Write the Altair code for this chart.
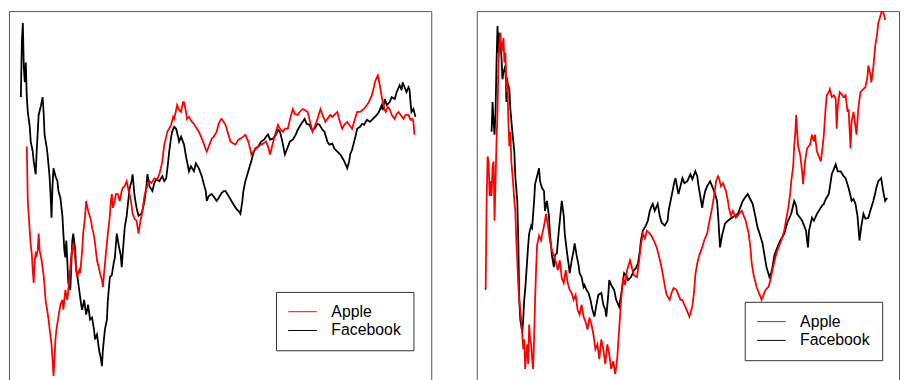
import altair as alt
import pandas as pd

# ---- Left panel (trading day index, price level) ----
left_fb_day = [12,13,14,15,16,17,18,19,21,22,24,25,27,28,30,32,34,35,36,38,39,41,42,43,44,45,47,49,50,52,54,55,56,57,58,60,62,63,64,65,67,68,69,71,73,74,76,78,80,82,84,86,87,89,91,93,94,95,97,99,100,102,104,106,107,109,111,113,114,116,117,119,122,124,125,127,129,131,134,136,137,139,140,142,145,147,149,152,155,157,159,161,162,164,165,167,169,171,172,174,177,179,182,184,187,189,192,195,197,199,200,202,205,208,210,212,215,217,219,222,225,228,230,232,234,236,237,239,242,244,245,247,249,252,255,258,260,262,264,267,270,272,274,276,279,281,284,287,290,292,295,297,299,301,304,306,309,312,314,317,319,322,324,327,329,332,335,338,340,342,344,345,347,349,351,352,355,357,359,362,365,368,372,374,377,378,380,382,385,387,390,392,395,397,398,400,402,404,405,406,407,409,411]
left_fb_val = [285,340,360,315,300,320,285,270,255,240,230,220,207,230,267,275,285,270,247,235,227,205,187,163,195,213,205,200,190,183,165,147,130,123,140,97,90,115,140,147,130,110,105,90,75,70,80,65,75,60,62,50,40,45,30,20,13,30,50,60,80,103,105,118,122,147,135,125,113,140,153,165,193,200,207,185,173,165,167,175,180,195,207,195,190,198,202,200,205,200,203,220,230,245,250,255,253,245,240,245,237,225,210,215,210,218,213,205,197,190,180,185,187,183,180,183,188,190,190,185,180,175,172,170,167,180,190,200,210,217,220,228,233,235,240,242,245,247,242,243,247,252,250,242,227,232,240,242,247,252,257,260,263,258,257,252,253,258,257,252,250,240,237,238,233,230,227,222,218,213,220,227,232,240,248,253,255,258,257,262,260,263,267,270,277,272,283,277,280,285,283,290,297,292,300,295,290,295,293,280,270,273,265]

left_ap_day = [18,19,20,21,22,23,24,25,26,27,28,29,30,31,32,33,35,36,37,39,40,42,43,44,45,46,47,48,50,52,54,55,57,59,60,62,63,65,67,69,71,72,74,75,77,78,80,81,83,84,86,87,89,91,92,94,95,96,98,100,102,103,104,105,107,108,110,112,114,115,117,119,121,122,124,125,127,129,131,133,135,137,139,142,144,147,150,152,154,155,157,159,160,162,164,166,167,169,170,172,174,176,177,179,180,182,185,187,190,192,195,197,199,200,202,205,207,210,212,214,215,217,219,221,224,227,229,232,234,237,239,242,244,245,247,250,252,255,257,260,262,264,266,269,272,274,277,279,282,284,287,289,292,294,297,299,302,304,307,309,312,314,315,317,320,322,325,327,329,332,334,337,339,342,344,347,349,352,355,359,362,364,367,369,370,372,373,375,377,378,380,381,383,385,387,390,392,394,396,399,401,404,406,408,409,410]
left_ap_val = [235,180,165,150,135,127,110,97,120,127,125,130,147,130,125,120,105,93,80,67,60,43,35,20,3,20,40,50,63,75,80,70,90,80,90,113,125,137,120,103,110,107,130,147,165,180,170,167,160,153,145,137,120,112,107,100,93,105,127,147,165,180,187,173,180,187,187,180,190,193,195,200,190,187,175,167,162,160,147,160,170,185,193,200,198,203,202,207,215,220,237,245,250,253,257,265,263,272,277,272,270,280,280,270,263,265,260,258,253,250,243,238,232,230,235,243,245,250,258,262,263,260,257,250,240,238,237,242,243,245,247,240,232,227,230,233,235,237,238,240,235,227,235,247,257,253,250,253,253,262,273,268,267,270,273,272,270,262,250,255,263,270,273,267,260,263,267,265,267,270,262,253,257,260,257,253,260,270,270,273,277,280,287,295,300,305,307,297,285,280,272,270,275,273,267,263,268,270,267,263,267,267,262,263,260,247]

# ---- Right panel ----
right_fb_day = [15,16,17,18,19,20,21,22,23,24,25,26,27,29,30,31,33,34,36,38,39,41,42,43,44,46,47,48,49,51,52,53,55,56,58,59,61,63,64,66,68,69,71,73,74,76,78,79,81,83,85,86,88,89,91,93,94,96,98,99,101,103,104,106,108,109,111,113,115,117,119,121,123,126,128,130,131,133,134,136,139,141,144,146,149,151,153,156,159,161,163,165,166,168,171,173,175,177,178,180,183,185,187,188,190,193,194,196,198,200,201,203,204,206,208,210,213,216,218,221,223,224,226,228,229,231,233,236,238,241,243,244,245,246,248,251,254,258,261,264,266,269,271,274,276,279,281,284,286,289,291,293,296,298,299,301,304,307,311,314,318,321,323,324,327,329,331,333,334,335,336,339,341,344,346,349,351,353,356,358,359,361,363,365,368,371,373,376,378,379,381,383,385,386,387,389,391,393,396,398,401,403,404,406,409,411,413,415]
right_fb_val = [250,280,260,247,270,320,357,330,350,340,325,303,310,317,280,300,293,273,250,230,205,180,140,80,60,47,60,80,90,120,135,147,155,153,180,197,205,213,200,193,190,170,180,165,147,125,113,125,127,150,170,180,165,147,130,115,107,120,130,137,125,115,107,103,93,95,90,87,80,70,63,75,85,87,75,70,63,85,100,95,90,80,73,85,107,105,100,103,110,112,117,130,140,150,155,160,170,175,177,170,177,165,158,157,155,160,170,180,190,200,203,192,187,195,203,198,200,207,202,210,205,197,185,173,180,190,195,200,195,187,180,167,150,133,145,157,160,163,165,167,172,180,183,187,183,177,168,153,147,137,125,113,103,108,113,125,133,140,147,158,167,180,175,167,163,160,155,150,140,133,150,163,160,167,170,175,177,182,187,200,207,212,217,210,210,205,203,193,185,180,182,177,165,153,140,155,167,162,163,170,180,188,193,200,203,190,180,183]

right_ap_day = [9,10,11,12,13,14,15,16,17,18,19,20,21,22,23,24,25,26,27,28,29,30,31,32,33,34,35,37,38,39,40,41,42,43,44,45,46,47,48,49,50,51,52,53,54,55,56,57,58,59,60,61,63,65,67,69,70,72,74,76,78,80,82,84,86,88,90,92,94,96,98,100,102,104,106,108,110,112,114,116,118,120,122,124,126,128,130,132,134,136,138,140,142,144,146,148,150,152,155,157,159,162,164,166,168,170,172,175,177,179,182,184,186,188,190,192,195,197,199,202,204,206,208,210,213,215,217,218,220,221,223,225,228,230,233,235,238,240,242,244,245,247,249,252,254,255,257,259,262,264,266,268,270,272,275,277,278,280,283,285,288,290,292,295,297,299,302,304,306,308,311,313,315,317,318,320,321,322,323,324,325,327,329,330,332,334,337,339,341,342,344,346,348,350,351,353,354,356,357,359,361,363,364,365,367,369,371,373,375,376,378,379,381,383,384,386,388,391,393,395,396,398,399,401,403,405,406,407,409,410,412,413]
right_ap_val = [90,180,225,220,185,200,185,215,220,160,200,240,270,320,340,350,330,335,345,320,330,290,305,260,235,250,220,195,180,170,140,120,95,80,70,60,45,30,40,10,25,35,15,55,40,35,20,10,40,80,110,135,145,140,150,160,167,155,140,130,125,118,110,120,102,97,110,97,90,87,80,85,70,65,75,63,58,50,62,55,45,30,35,20,40,30,15,35,25,10,18,5,20,50,80,103,95,110,120,112,105,103,118,135,147,142,150,147,144,140,133,125,117,107,95,85,80,87,92,90,85,80,80,75,68,63,70,73,90,105,117,125,133,140,147,158,173,185,200,205,203,195,198,190,180,173,165,170,163,165,168,170,165,160,147,130,117,105,93,88,80,85,90,93,100,110,123,130,135,140,150,162,173,188,200,215,235,247,267,250,235,227,210,197,220,233,237,247,240,247,230,225,220,237,247,277,287,290,293,285,287,283,253,275,290,288,285,287,270,273,233,260,270,255,247,275,290,293,295,305,317,308,300,315,337,350,360,363,370,373,368,363]

SERIES = ["Apple", "Facebook"]
COLORS = ["#ff0000", "#000000"]


def frame(fb_day, fb_val, ap_day, ap_val):
    fb = pd.DataFrame({"day": fb_day, "value": fb_val, "stock": "Facebook", "k": 0})
    ap = pd.DataFrame({"day": ap_day, "value": ap_val, "stock": "Apple", "k": 1})
    return pd.concat([fb, ap], ignore_index=True)


def panel(df, lx, ly):
    return alt.Chart(df).mark_line(strokeWidth=1.8, clip=True).encode(
        x=alt.X("day:Q", scale=alt.Scale(domain=[0, 427], nice=False, zero=False), axis=None),
        y=alt.Y("value:Q", scale=alt.Scale(domain=[-4, 372], nice=False, zero=False), axis=None),
        color=alt.Color(
            "stock:N",
            scale=alt.Scale(domain=SERIES, range=COLORS),
            legend=alt.Legend(
                title=None, orient="none", legendX=lx, legendY=ly,
                symbolType="stroke", symbolSize=841, symbolStrokeWidth=1,
                clipHeight=16, rowPadding=3, padding=12,
                strokeColor="#333333", fillColor="white",
                labelFont="Liberation Sans", labelFontSize=16, labelOffset=14,
                labelColor="black",
            ),
        ),
        order=alt.Order("k:Q"),
    ).properties(width=427, height=376)


left = panel(frame(left_fb_day, left_fb_val, left_ap_day, left_ap_val), 270, 284)
right = panel(frame(right_fb_day, right_fb_val, right_ap_day, right_ap_val), 271, 294)

chart = alt.hconcat(left, right, spacing=44).resolve_scale(color="independent").resolve_legend(
    color="independent"
).configure_view(stroke="#555555", strokeWidth=1).properties(padding=0, background="white")

chart.save("out.html", embed_options={"renderer": "svg", "actions": False})
